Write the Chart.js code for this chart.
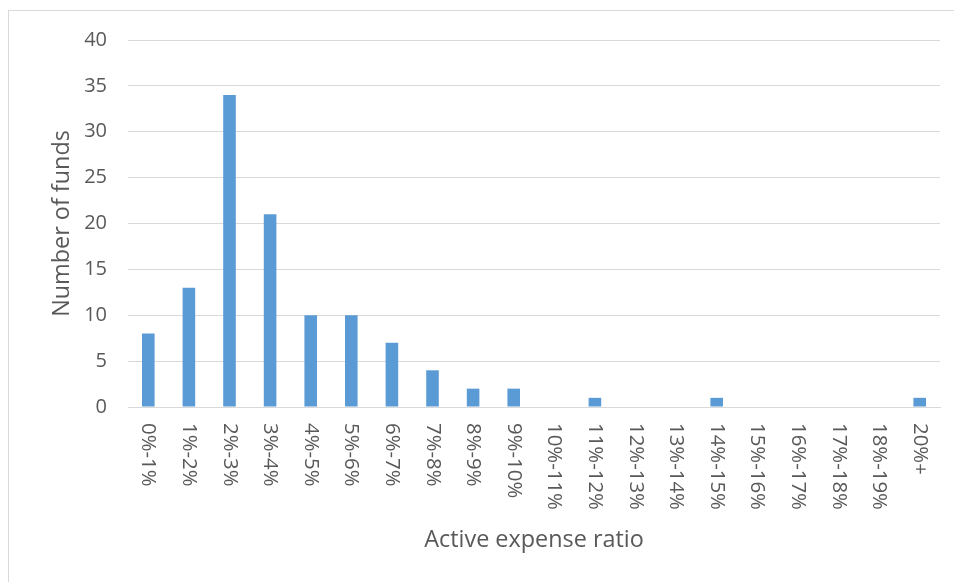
<!DOCTYPE html>
<html>
<head>
<meta charset="utf-8">
<script src="https://cdn.jsdelivr.net/npm/chart.js@4/dist/chart.umd.min.js"></script>
<style>
  html, body { margin: 0; padding: 0; background: #fff; overflow: hidden; }
</style>
</head>
<body>
<canvas id="histChart" width="954" height="582"></canvas>
<script>
// Fund counts by active expense ratio bucket
const buckets = [
  "0%-1%", "1%-2%", "2%-3%", "3%-4%", "4%-5%", "5%-6%", "6%-7%",
  "7%-8%", "8%-9%", "9%-10%", "10%-11%", "11%-12%", "12%-13%",
  "13%-14%", "14%-15%", "15%-16%", "16%-17%", "17%-18%", "18%-19%", "20%+",
];
const fundCounts = [8, 13, 34, 21, 10, 10, 7, 4, 2, 2, 0, 1, 0, 0, 1, 0, 0, 0, 0, 1];
const yTicks = [0, 5, 10, 15, 20, 25, 30, 35, 40];

const textColor = "#595959";
const fontFamily = "'Open Sans', sans-serif";

// outer frame of the chart object
const framePlugin = {
  id: "frame",
  beforeDraw(chart) {
    const c = chart.ctx;
    c.save();
    c.strokeStyle = "#d9d9d9";
    c.lineWidth = 1;
    c.strokeRect(8.5, 10.5, 1000, 1000);
    c.restore();
  },
};

// category labels run top-to-bottom under each bar
const downLabels = {
  id: "downLabels",
  afterDraw(chart) {
    const x = chart.scales.x;
    const c = chart.ctx;
    c.save();
    c.fillStyle = textColor;
    c.font = "20.4px " + fontFamily;
    c.textAlign = "left";
    c.textBaseline = "middle";
    buckets.forEach((lbl, i) => {
      c.save();
      c.translate(x.getPixelForValue(i), x.top + 16);
      c.rotate(Math.PI / 2);
      c.fillText(lbl, 0, 0);
      c.restore();
    });
    c.restore();
  },
};

const ctx = document.getElementById("histChart");

new Chart(ctx, {
  type: "bar",
  data: {
    labels: buckets,
    datasets: [
      {
        label: "Number of funds",
        data: fundCounts,
        backgroundColor: "#5b9bd5",
        categoryPercentage: 1,
        barPercentage: 0.31,
      },
    ],
  },
  options: {
    responsive: false,
    animation: false,
    layout: { padding: { left: 0, top: 40, right: 14, bottom: 0 } },
    plugins: {
      legend: { display: false },
      tooltip: { enabled: false },
    },
    scales: {
      x: {
        grid: { display: false, drawTicks: false },
        border: { color: "#d9d9d9", width: 1 },
        ticks: { display: false },
        title: {
          display: true,
          text: "Active expense ratio",
          color: textColor,
          font: { family: fontFamily, size: 23.4 },
          padding: { top: 0, bottom: 28 },
        },
        afterFit(s) { s.height = 175; },
      },
      y: {
        min: 0,
        max: 40,
        afterBuildTicks(s) { s.ticks = yTicks.map((v) => ({ value: v })); },
        grid: { color: "#d9d9d9", drawTicks: false },
        border: { display: false },
        ticks: {
          color: textColor,
          padding: 21,
          font: { family: fontFamily, size: 20 },
        },
        title: {
          display: true,
          text: "Number of funds",
          color: textColor,
          font: { family: fontFamily, size: 23.4 },
          padding: { top: 48, bottom: 0 },
        },
        afterFit(s) { s.width = 128; },
      },
    },
  },
  plugins: [framePlugin, downLabels],
});
</script>
</body>
</html>
